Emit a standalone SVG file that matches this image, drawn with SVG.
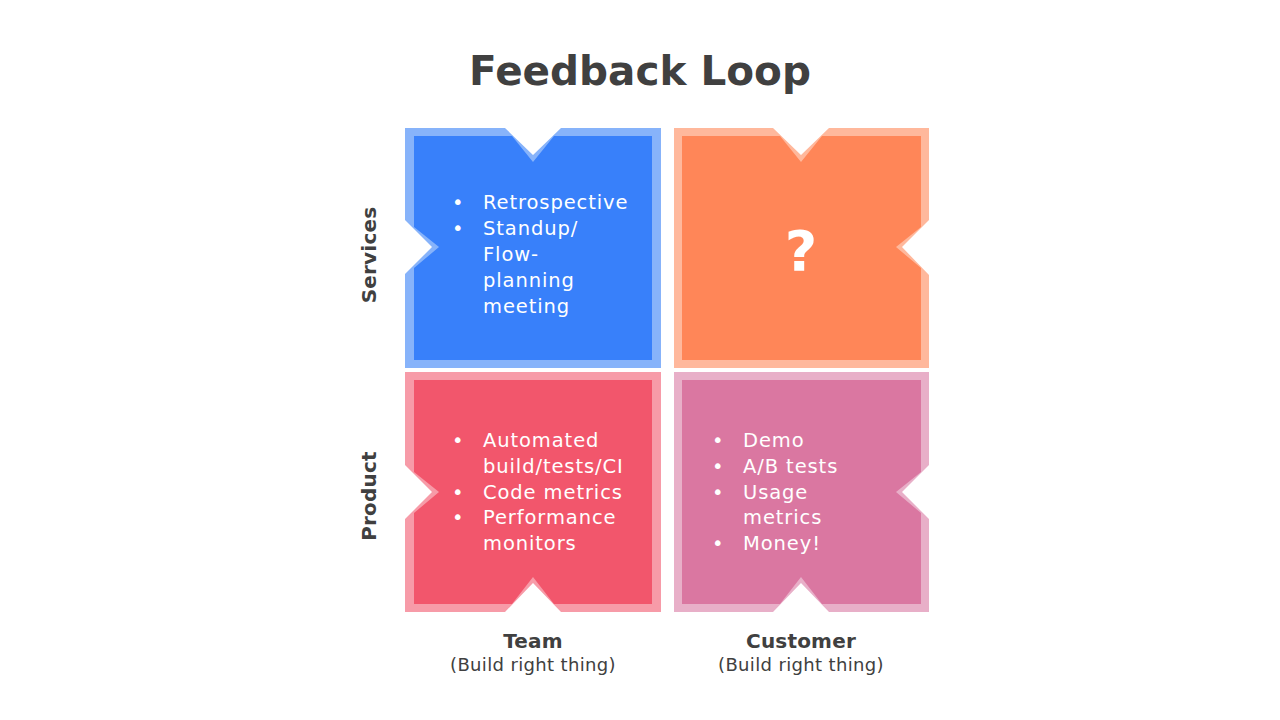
<svg xmlns="http://www.w3.org/2000/svg" width="1280" height="720" viewBox="0 0 1280 720">
<style>
.t{font-family:"DejaVu Sans","Noto Sans",sans-serif;fill:#404040}
.title{font-size:40.5px;font-weight:bold}
.ax{font-size:20px;font-weight:bold;letter-spacing:0.2px}
.sub{font-size:18px;letter-spacing:0.35px}
.b{font-family:"DejaVu Sans","Noto Sans",sans-serif;font-size:19.5px;letter-spacing:0.9px;fill:#ffffff}
.q{font-family:"DejaVu Sans","Noto Sans",sans-serif;font-size:56px;font-weight:bold;fill:#ffffff}
</style>
<rect width="1280" height="720" fill="#ffffff"/>
<text class="t title" x="640" y="85" text-anchor="middle">Feedback Loop</text>
<g id="blue">
<polygon fill="#87B3FA" points="405,128 505,128 533,155 561,128 661,128 661,368 405,368 405,274 432,247 405,220"/>
<polygon fill="#3880FA" points="414,136 512,136 533,162 554,136 652,136 652,360 414,360 414,268 439,247 414,227"/>
<g class="b">
<text x="452" y="209">•</text><text x="483" y="209">Retrospective</text>
<text x="452" y="235">•</text><text x="483" y="235">Standup/</text>
<text x="483" y="261">Flow-</text>
<text x="483" y="287">planning</text>
<text x="483" y="313">meeting</text>
</g>
</g>
<g id="orange">
<polygon fill="#FFB89C" points="674,128 773,128 801,155 829,128 929,128 929,220 902,247 929,275 929,368 674,368"/>
<polygon fill="#FF8658" points="682,136 780,136 801,162 822,136 921,136 921,227 896,247 921,268 921,360 682,360"/>
<text class="q" x="801" y="270" text-anchor="middle">?</text>
</g>
<g id="red">
<polygon fill="#F79BA8" points="405,372 661,372 661,612 561,612 533,583 505,612 405,612 405,519 432,492 405,465"/>
<polygon fill="#F2566C" points="414,380 652,380 652,604 554,604 533,577 512,604 414,604 414,513 439,492 414,472"/>
<g class="b">
<text x="452" y="447">•</text><text x="483" y="447">Automated</text>
<text x="483" y="473">build/tests/CI</text>
<text x="452" y="499">•</text><text x="483" y="499">Code metrics</text>
<text x="452" y="524">•</text><text x="483" y="524">Performance</text>
<text x="483" y="550">monitors</text>
</g>
</g>
<g id="pink">
<polygon fill="#E8AFC8" points="674,372 929,372 929,465 902,492 929,519 929,612 829,612 801,583 773,612 674,612"/>
<polygon fill="#DA77A1" points="682,380 921,380 921,472 896,492 921,513 921,604 822,604 801,577 780,604 682,604"/>
<g class="b">
<text x="712" y="447">•</text><text x="743" y="447">Demo</text>
<text x="712" y="473">•</text><text x="743" y="473">A/B tests</text>
<text x="712" y="499">•</text><text x="743" y="499">Usage</text>
<text x="743" y="524">metrics</text>
<text x="712" y="550">•</text><text x="743" y="550">Money!</text>
</g>
</g>
<g id="labels">
<text class="t ax" transform="translate(376,255) rotate(-90)" text-anchor="middle">Services</text>
<text class="t ax" transform="translate(376,496) rotate(-90)" text-anchor="middle">Product</text>
<text class="t ax" x="533" y="648" text-anchor="middle">Team</text>
<text class="t sub" x="533" y="671" text-anchor="middle">(Build right thing)</text>
<text class="t ax" x="801" y="648" text-anchor="middle">Customer</text>
<text class="t sub" x="801" y="671" text-anchor="middle">(Build right thing)</text>
</g>
</svg>
